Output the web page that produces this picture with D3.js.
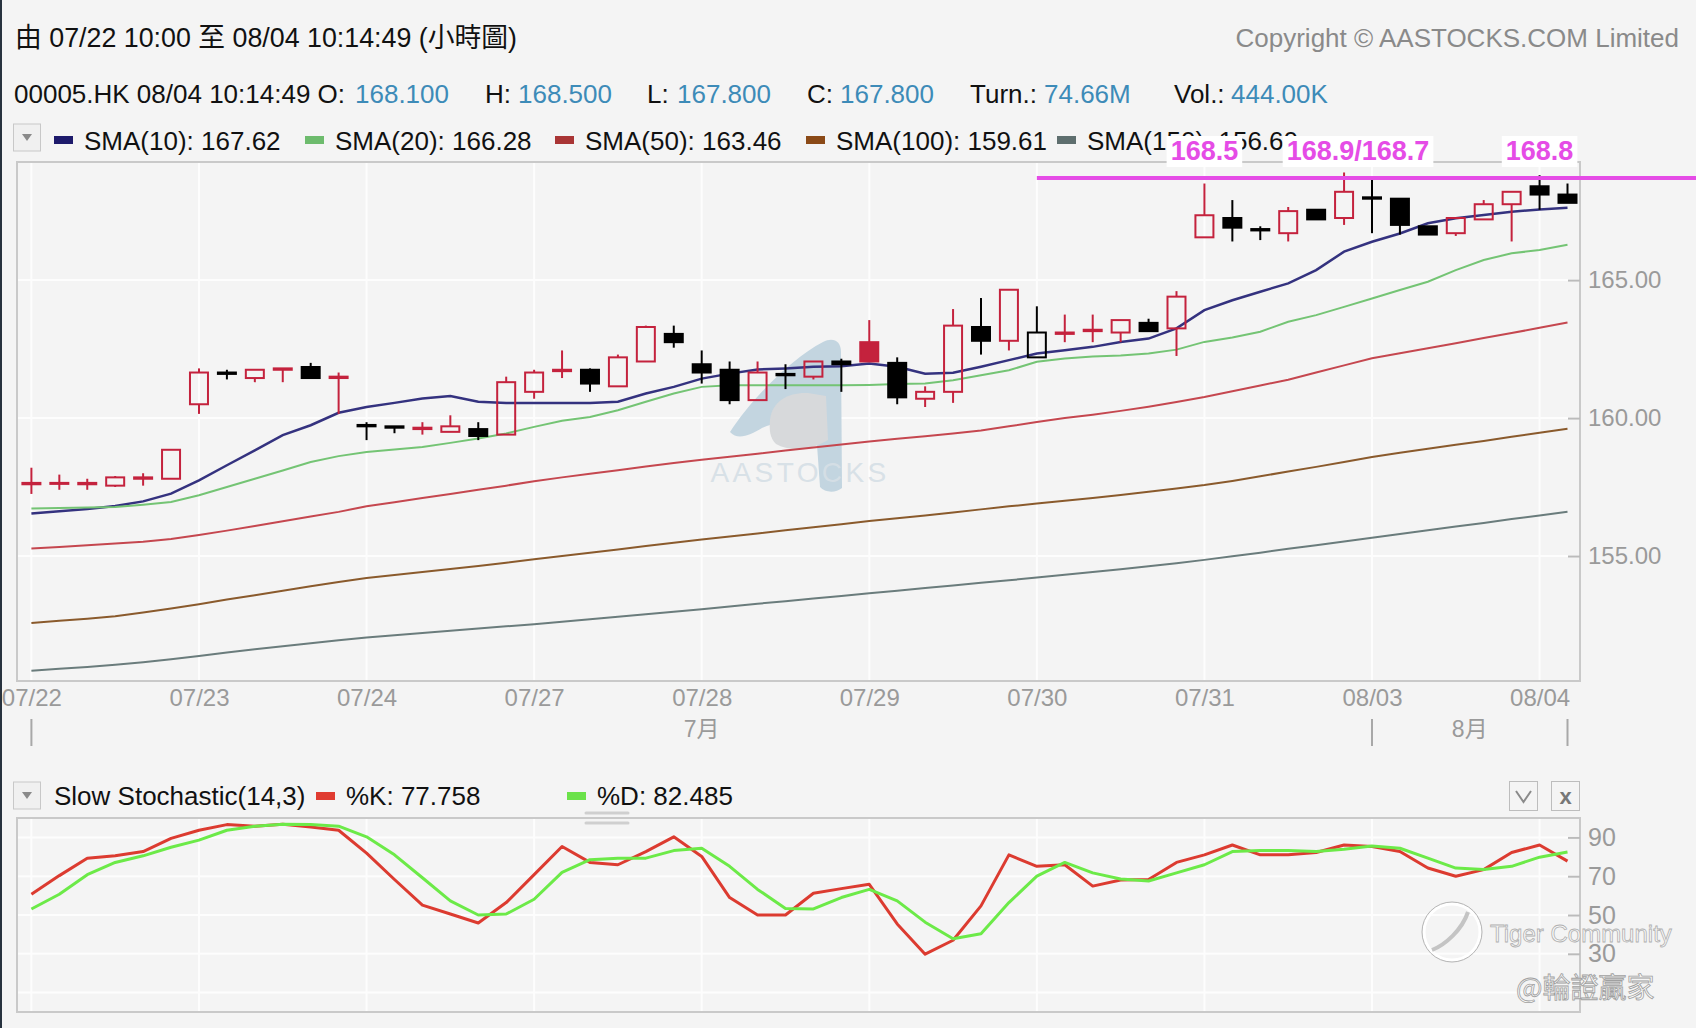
<!DOCTYPE html>
<html>
<head>
<meta charset="utf-8">
<script src="https://cdn.jsdelivr.net/npm/d3@7"></script>
<style>
  body { margin: 0; background: #f4f4f4; }
  svg { display: block; font-family: "Liberation Sans", Arial, "Noto Sans CJK TC", sans-serif; }
</style>
</head>
<body>
<svg id="chart" width="1696" height="1028"></svg>
<script>
// ---- data ----
const dayLabels = ["07/22", "07/23", "07/24", "07/27", "07/28", "07/29", "07/30", "07/31", "08/03", "08/04"];
const dayStart = [0, 6, 12, 18, 24, 30, 36, 42, 48, 54];
const monthLabels = ["7月", "8月"];
const monthBounds = [0, 48, 55];

const openP = [157.60,157.65,157.60,157.55,157.80,157.80,160.50,161.65,161.45,161.75,
  161.85,161.45,159.75,159.70,159.60,159.50,159.60,159.40,160.95,161.70,
  161.75,161.15,162.05,163.05,161.95,161.75,160.65,161.60,161.50,162.05,
  162.75,162.00,160.70,160.95,163.30,162.80,162.20,163.05,163.15,163.10,
  163.45,163.25,166.55,167.25,166.85,166.70,167.55,167.25,168.00,167.95,
  166.95,166.70,167.20,167.75,168.40,168.10];
const highP = [158.20,157.95,157.80,157.90,158.00,158.85,161.80,161.75,161.75,161.80,
  162.00,161.65,159.85,159.70,159.85,160.10,159.85,161.50,161.75,162.45,
  161.80,162.30,163.35,163.35,162.45,162.05,162.05,161.95,162.05,162.15,
  163.55,162.20,161.15,163.95,164.35,164.65,164.05,163.75,163.75,163.55,
  163.60,164.60,168.50,167.90,166.95,167.65,167.55,168.90,168.70,167.95,
  166.95,167.25,167.90,168.20,168.80,168.50];
const lowP = [157.25,157.40,157.40,157.50,157.55,157.80,160.15,161.40,161.30,161.30,
  161.45,160.15,159.20,159.45,159.40,159.50,159.20,159.40,160.70,161.45,
  160.95,161.15,162.05,162.55,161.25,160.50,160.65,161.05,161.40,160.95,
  162.05,160.50,160.40,160.55,162.30,162.45,162.20,162.75,162.75,162.75,
  163.15,162.25,166.55,166.40,166.45,166.40,167.20,167.00,166.70,166.65,
  166.65,166.60,167.20,166.40,167.55,167.80];
const closeP = [157.65,157.65,157.65,157.85,157.85,158.85,161.65,161.60,161.75,161.80,
  161.45,161.50,159.70,159.65,159.65,159.70,159.35,161.30,161.65,161.75,
  161.25,162.20,163.30,162.75,161.65,160.65,161.65,161.55,162.05,161.95,
  162.05,160.75,160.95,163.35,162.80,164.65,163.10,163.10,163.20,163.55,
  163.15,164.40,167.35,166.90,166.80,167.50,167.20,168.20,167.95,167.00,
  166.65,167.25,167.75,168.20,168.10,167.80];

const sma10 = [156.54,156.62,156.70,156.81,156.98,157.26,157.74,158.29,158.83,159.38,
  159.74,160.19,160.40,160.55,160.71,160.80,160.59,160.55,160.55,160.55,
  160.55,160.59,160.89,161.13,161.43,161.61,161.76,161.80,161.86,161.88,
  161.98,161.86,161.61,161.64,161.86,162.10,162.34,162.46,162.58,162.76,
  162.88,163.25,163.91,164.27,164.58,164.88,165.36,166.03,166.39,166.69,
  167.06,167.24,167.36,167.48,167.56,167.62];
const sma20 = [156.72,156.74,156.76,156.78,156.86,156.96,157.20,157.50,157.80,158.10,
  158.41,158.62,158.77,158.86,158.95,159.10,159.26,159.44,159.68,159.90,
  160.04,160.28,160.59,160.89,161.13,161.19,161.19,161.19,161.19,161.19,
  161.20,161.23,161.25,161.37,161.55,161.73,162.04,162.16,162.23,162.27,
  162.34,162.48,162.76,162.92,163.13,163.49,163.73,164.03,164.33,164.64,
  164.94,165.36,165.73,165.97,166.09,166.28];
const sma50 = [155.27,155.33,155.39,155.45,155.52,155.62,155.76,155.92,156.09,156.26,
  156.43,156.60,156.80,156.95,157.10,157.25,157.40,157.55,157.71,157.85,
  157.98,158.11,158.24,158.37,158.49,158.60,158.71,158.82,158.93,159.04,
  159.15,159.25,159.34,159.44,159.55,159.70,159.86,160.00,160.12,160.26,
  160.41,160.58,160.76,160.97,161.18,161.39,161.65,161.91,162.17,162.35,
  162.53,162.71,162.90,163.08,163.27,163.46];
const sma100 = [152.57,152.65,152.73,152.82,152.95,153.10,153.25,153.42,153.58,153.74,
  153.90,154.06,154.20,154.31,154.42,154.53,154.64,154.76,154.88,155.00,
  155.12,155.24,155.36,155.48,155.60,155.71,155.82,155.93,156.04,156.15,
  156.27,156.37,156.47,156.58,156.69,156.80,156.90,157.00,157.10,157.21,
  157.33,157.45,157.57,157.72,157.89,158.06,158.23,158.41,158.59,158.74,
  158.89,159.03,159.17,159.32,159.47,159.61];
const sma150 = [150.84,150.91,150.98,151.06,151.15,151.26,151.38,151.50,151.62,151.73,
  151.84,151.95,152.05,152.13,152.21,152.29,152.37,152.45,152.53,152.62,
  152.71,152.80,152.89,152.98,153.07,153.17,153.27,153.36,153.46,153.55,
  153.65,153.74,153.84,153.93,154.03,154.12,154.22,154.32,154.42,154.52,
  154.63,154.74,154.86,154.99,155.12,155.26,155.39,155.53,155.66,155.80,
  155.93,156.07,156.20,156.34,156.47,156.60];

const stochK = [60.7,70.3,79.3,80.5,82.7,89.5,93.7,96.6,95.8,96.8,
  95.4,93.7,81.9,68.3,55.1,50.5,45.9,56.4,70.8,85.3,
  77.1,75.9,82.7,90.3,80.2,59.0,50.0,50.0,61.2,63.6,
  65.8,45.4,29.8,37.0,54.7,81.0,75.1,75.9,64.9,68.0,
  68.3,77.1,81.0,86.1,81.0,81.0,82.2,86.1,85.3,82.7,
  74.2,70.0,73.4,82.2,86.1,77.758];
const stochD = [53.1,60.7,70.8,77.1,80.5,84.9,88.6,93.7,95.8,96.8,
  96.6,95.8,90.3,81.0,69.2,57.3,50.0,50.5,58.1,72.0,
  78.5,79.3,79.3,83.2,84.4,75.1,63.2,53.4,53.1,59.0,
  63.2,57.3,46.3,37.8,40.3,56.4,70.0,77.1,71.7,68.6,
  67.5,71.7,75.9,82.7,83.2,83.2,82.7,83.9,85.6,84.4,
  79.3,74.2,73.4,75.1,79.8,82.485];

const priceTicks = [155, 160, 165];
const stochGrid = [10, 30, 50, 70, 90];
const stochTicks = [30, 50, 70, 90];

const smaNames = ["SMA(10)", "SMA(20)", "SMA(50)", "SMA(100)", "SMA(150)"];
const smaSeries = [sma10, sma20, sma50, sma100, sma150];

const markLevel = 168.7;
const markFrom = 36;
const markText = ["168.5", "168.9/168.7", "168.8"];
const markAt = [42, 47.5, 54];

const turnText = "74.66M";
const volText = "444.00K";

// ---- layout ----
const bg = "#f4f4f4";
const red = "#c4223d";
const smaColors = ["#34327f", "#74c474", "#c5474f", "#8a5a2c", "#6a7c7c"];
const keyColors = ["#1d1a6b", "#6dbb6d", "#a93535", "#8b4a17", "#5e6e6e"];
const plot = { left: 17, right: 1580, top: 162, bottom: 681 };
const sp = { left: 17, right: 1580, top: 818, bottom: 1012 };

const svg = d3.select("#chart");
svg.append("rect").attr("width", 1696).attr("height", 1028).attr("fill", bg);
svg.append("rect").attr("width", 2).attr("height", 1028).attr("fill", "#27323e");

const x = d3.scaleLinear().domain([0, 55]).range([31.4, 1567.5]);
const y = d3.scaleLinear().domain([150.47, 169.28]).range([plot.bottom, plot.top]);
const ys = d3.scaleLinear().domain([0, 100]).range([sp.bottom, sp.top]);

// header
svg.append("text").attr("x", 15).attr("y", 47).attr("font-size", 26.8).attr("fill", "#111")
  .text("由 07/22 10:00 至 08/04 10:14:49 (小時圖)");
svg.append("text").attr("x", 1679).attr("y", 47).attr("font-size", 26).attr("fill", "#8a8a8a")
  .attr("text-anchor", "end").text("Copyright © AASTOCKS.COM Limited");

const f3 = d3.format(".3f");
const last = closeP.length - 1;
const info = [
  ["00005.HK 08/04 10:14:49 O:", 14, f3(openP[last]), 355],
  ["H:", 485, f3(highP[last]), 518],
  ["L:", 647, f3(lowP[last]), 677],
  ["C:", 807, f3(closeP[last]), 840],
  ["Turn.:", 970, turnText, 1044],
  ["Vol.:", 1174, volText, 1231]
];
info.forEach(([lab, lx, val, vx]) => {
  svg.append("text").attr("x", lx).attr("y", 103).attr("font-size", 26).attr("fill", "#111").text(lab);
  svg.append("text").attr("x", vx).attr("y", 103).attr("font-size", 26).attr("fill", "#3d8bb8").text(val);
});

function dropBox(top) {
  svg.append("rect").attr("x", 13.5).attr("y", top).attr("width", 27).attr("height", 27)
    .attr("fill", "#f0f0f0").attr("stroke", "#c8c8c8");
  svg.append("path").attr("d", `M22,${top + 10}L32,${top + 10}L27,${top + 17}Z`).attr("fill", "#8a8a8a");
}
dropBox(124);

const keyX = [54, 305, 555, 806, 1057];
smaNames.forEach((n, k) => {
  svg.append("rect").attr("x", keyX[k]).attr("y", 136).attr("width", 19).attr("height", 8).attr("fill", keyColors[k]);
  svg.append("text").attr("x", keyX[k] + 30).attr("y", 150).attr("font-size", 26).attr("fill", "#111")
    .text(`${n}: ${d3.format(".2f")(smaSeries[k][last])}`);
});

// main plot frame and grid
svg.append("rect").attr("x", plot.left).attr("y", plot.top)
  .attr("width", plot.right - plot.left).attr("height", plot.bottom - plot.top)
  .attr("fill", bg).attr("stroke", "#c9c9c9").attr("stroke-width", 2);

const gMain = svg.append("g");
gMain.selectAll(".vgrid").data(dayStart).enter().append("line")
  .attr("x1", (d) => x(d)).attr("x2", (d) => x(d))
  .attr("y1", plot.top + 1).attr("y2", plot.bottom - 1)
  .attr("stroke", "#fdfdfd").attr("stroke-width", 2);
gMain.selectAll(".hgrid").data(priceTicks).enter().append("line")
  .attr("x1", plot.left + 1).attr("x2", plot.right - 1)
  .attr("y1", (d) => y(d)).attr("y2", (d) => y(d))
  .attr("stroke", "#fdfdfd").attr("stroke-width", 2);

// watermark
const wm = gMain.append("g");
wm.append("path")
  .attr("d", "M730,432 C752,398 792,358 823,342 C833,337 841,341 841,352 L842,488 C836,493 825,493 820,487 L817,445 C806,424 782,418 762,428 C750,435 738,441 730,432 Z")
  .attr("fill", "#c3d5e0");
wm.append("path")
  .attr("d", "M770,420 C772,400 790,392 808,393 L826,396 L828,440 C812,450 790,452 776,444 C770,438 769,430 770,420 Z")
  .attr("fill", "#d7d9db");
wm.append("text").attr("x", 800).attr("y", 482).attr("text-anchor", "middle").attr("font-size", 28)
  .attr("letter-spacing", 3.4).attr("fill", "#d6dfe6").attr("opacity", 0.9).text("AASTOCKS");

// y axis
const yAxis = d3.axisRight(y).tickValues(priceTicks).tickFormat(d3.format(".2f"))
  .tickSizeInner(-12).tickSizeOuter(0).tickPadding(8);
const gy = svg.append("g").attr("transform", `translate(${plot.right},0)`).call(yAxis);
gy.select(".domain").remove();
gy.selectAll("line").attr("stroke", "#bbb").attr("stroke-width", 2);
gy.selectAll("text").attr("font-size", 24).attr("fill", "#9a9a9a").attr("font-family", "Liberation Sans, Arial");

// x axis
const xAxis = d3.axisBottom(x).tickValues(dayStart).tickFormat((d, k) => dayLabels[k])
  .tickSize(0).tickPadding(8);
const gx = svg.append("g").attr("transform", `translate(0,${plot.bottom})`).call(xAxis);
gx.select(".domain").remove();
gx.selectAll("text").attr("font-size", 24).attr("fill", "#9a9a9a").attr("font-family", "Liberation Sans, Arial");

svg.selectAll(".mtick").data(monthBounds).enter().append("line")
  .attr("x1", (d) => x(d)).attr("x2", (d) => x(d)).attr("y1", 719).attr("y2", 746)
  .attr("stroke", "#a8a8a8").attr("stroke-width", 2);
monthLabels.forEach((m, k) => {
  svg.append("text").attr("x", (x(monthBounds[k]) + x(monthBounds[k + 1])) / 2).attr("y", 737)
    .attr("text-anchor", "middle").attr("font-size", 23).attr("fill", "#9a9a9a").text(m);
});

// moving averages
const line = d3.line().x((d, i) => x(i)).y((d) => y(d));
smaSeries.forEach((s, k) => {
  gMain.append("path").datum(s).attr("d", line).attr("fill", "none")
    .attr("stroke", smaColors[k]).attr("stroke-width", k === 0 ? 2.5 : 2);
});

// candles
const candles = closeP.map((c, i) => ({
  i, o: openP[i], h: highP[i], l: lowP[i], c,
  up: i === 0 ? c >= openP[i] : c >= closeP[i - 1]
}));
const bodyW = 18;
const gc = gMain.append("g");
candles.forEach((d) => {
  const col = d.up ? red : "#000";
  const top = y(Math.max(d.o, d.c));
  const bot = y(Math.min(d.o, d.c));
  const cx = x(d.i);
  gc.append("line").attr("x1", cx).attr("x2", cx).attr("y1", y(d.h)).attr("y2", top)
    .attr("stroke", col).attr("stroke-width", 2);
  gc.append("line").attr("x1", cx).attr("x2", cx).attr("y1", bot).attr("y2", y(d.l))
    .attr("stroke", col).attr("stroke-width", 2);
  gc.append("rect").attr("x", cx - bodyW / 2).attr("y", top)
    .attr("width", bodyW).attr("height", Math.max(bot - top, 1))
    .attr("fill", d.c < d.o ? col : "none").attr("stroke", col).attr("stroke-width", 2);
});

// magenta marker line and labels
const magenta = "#e54ce6";
svg.append("line").attr("x1", x(markFrom)).attr("x2", 1696)
  .attr("y1", y(markLevel)).attr("y2", y(markLevel))
  .attr("stroke", magenta).attr("stroke-width", 4);
markText.forEach((t, k) => {
  const g = svg.append("g");
  const tx = g.append("text").attr("x", x(markAt[k])).attr("y", 160).attr("text-anchor", "middle")
    .attr("font-size", 27).attr("font-weight", "bold").attr("fill", magenta).text(t);
  const bb = tx.node().getBBox();
  g.insert("rect", "text").attr("x", bb.x - 4).attr("y", 136).attr("width", bb.width + 8).attr("height", 31)
    .attr("fill", "#fff");
});

// ---- stochastic panel ----
dropBox(782);
svg.append("text").attr("x", 54).attr("y", 805).attr("font-size", 26).attr("fill", "#111").text("Slow Stochastic(14,3)");
svg.append("rect").attr("x", 316).attr("y", 792).attr("width", 19).attr("height", 8).attr("fill", "#e03c31");
svg.append("text").attr("x", 346).attr("y", 805).attr("font-size", 26).attr("fill", "#111")
  .text(`%K: ${d3.format(".3f")(stochK[last])}`);
svg.append("rect").attr("x", 567).attr("y", 792).attr("width", 19).attr("height", 8).attr("fill", "#6be24a");
svg.append("text").attr("x", 597).attr("y", 805).attr("font-size", 26).attr("fill", "#111")
  .text(`%D: ${d3.format(".3f")(stochD[last])}`);

// buttons
svg.append("rect").attr("x", 1509.5).attr("y", 781.5).attr("width", 28).attr("height", 29)
  .attr("fill", bg).attr("stroke", "#bdbdbd");
svg.append("path").attr("d", "M1516,791 L1523.5,802 L1531,791").attr("fill", "none")
  .attr("stroke", "#8a8a8a").attr("stroke-width", 2);
svg.append("rect").attr("x", 1551.5).attr("y", 781.5).attr("width", 28).attr("height", 29)
  .attr("fill", bg).attr("stroke", "#bdbdbd");
svg.append("text").attr("x", 1565.5).attr("y", 804).attr("text-anchor", "middle").attr("font-size", 22)
  .attr("font-weight", "bold").attr("fill", "#777").text("x");

svg.append("rect").attr("x", sp.left).attr("y", sp.top)
  .attr("width", sp.right - sp.left).attr("height", sp.bottom - sp.top)
  .attr("fill", bg).attr("stroke", "#c9c9c9").attr("stroke-width", 2);

// drag handle
[813, 823].forEach((hy) => {
  svg.append("line").attr("x1", 586).attr("x2", 628).attr("y1", hy).attr("y2", hy)
    .attr("stroke", "#cfcfcf").attr("stroke-width", 3).attr("stroke-linecap", "round");
});

const gS = svg.append("g");
gS.selectAll(".vg").data(dayStart).enter().append("line")
  .attr("x1", (d) => x(d)).attr("x2", (d) => x(d)).attr("y1", sp.top + 1).attr("y2", sp.bottom - 1)
  .attr("stroke", "#fdfdfd").attr("stroke-width", 2);
gS.selectAll(".hg").data(stochGrid).enter().append("line")
  .attr("x1", sp.left + 1).attr("x2", sp.right - 1).attr("y1", (d) => ys(d)).attr("y2", (d) => ys(d))
  .attr("stroke", "#fdfdfd").attr("stroke-width", 2);

const sAxis = d3.axisRight(ys).tickValues(stochTicks).tickSizeInner(-12).tickSizeOuter(0).tickPadding(8);
const gsa = svg.append("g").attr("transform", `translate(${sp.right},0)`).call(sAxis);
gsa.select(".domain").remove();
gsa.selectAll("line").attr("stroke", "#bbb").attr("stroke-width", 2);
gsa.selectAll("text").attr("font-size", 25).attr("fill", "#9a9a9a").attr("font-family", "Liberation Sans, Arial");

const sline = d3.line().x((d, i) => x(i)).y((d) => ys(d));
gS.append("path").datum(stochK).attr("d", sline).attr("fill", "none")
  .attr("stroke", "#dc3b30").attr("stroke-width", 3).attr("stroke-linejoin", "round");
gS.append("path").datum(stochD).attr("d", sline).attr("fill", "none")
  .attr("stroke", "#6cea48").attr("stroke-width", 3).attr("stroke-linejoin", "round");

// tiger community overlay
const tw = svg.append("g");
tw.append("circle").attr("cx", 1452).attr("cy", 932).attr("r", 28).attr("fill", "none")
  .attr("stroke", "#fff").attr("stroke-width", 3);
tw.append("circle").attr("cx", 1452).attr("cy", 932).attr("r", 30).attr("fill", "none")
  .attr("stroke", "#b5b5b5").attr("stroke-width", 1);
tw.append("path").attr("d", "M1432,950 C1445,945 1462,930 1468,912").attr("fill", "none")
  .attr("stroke", "#c4c4c4").attr("stroke-width", 4);
tw.append("text").attr("x", 1490).attr("y", 942).attr("font-size", 24).attr("fill", "#fafafa")
  .attr("stroke", "#b0b0b0").attr("stroke-width", 0.8).text("Tiger Community");
tw.append("text").attr("x", 1516).attr("y", 998).attr("font-size", 28).attr("fill", "#fafafa")
  .attr("stroke", "#a0a0a0").attr("stroke-width", 0.8)
  .attr("font-family", "Noto Sans CJK TC, sans-serif").text("@輪證贏家");
</script>
</body>
</html>
